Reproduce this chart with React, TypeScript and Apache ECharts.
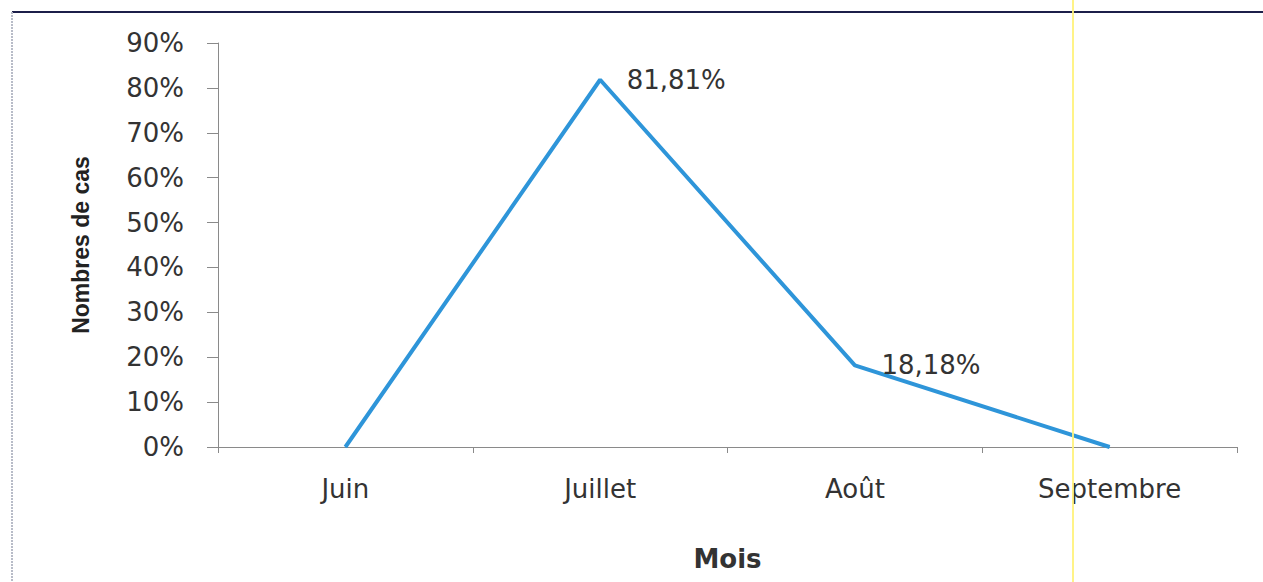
import React, { useEffect, useRef } from "react";
import * as echarts from "echarts";

// Monthly share of cases
const months = ["Juin", "Juillet", "Août", "Septembre"];
const shares = [0, 0.8181, 0.1818, 0];
const yTicks = [0, 0.1, 0.2, 0.3, 0.4, 0.5, 0.6, 0.7, 0.8, 0.9];

const W = 1263;
const H = 582;

const pct = (v: number) => (v * 100).toFixed(2).replace(".", ",") + "%";

export default function App() {
  const ref = useRef<HTMLDivElement>(null);

  useEffect(() => {
    document.body.style.margin = "0";
    if (!ref.current) return;
    const chart = echarts.init(ref.current, null, { renderer: "svg" });
    const textFont = "'DejaVu Sans', Verdana, sans-serif";

    chart.setOption({
      animation: false,
      backgroundColor: "#ffffff",
      grid: { left: 218, right: 26, top: 43, bottom: 135 },
      xAxis: {
        type: "category",
        data: months,
        boundaryGap: true,
        name: "Mois",
        nameLocation: "middle",
        nameGap: 99,
        nameTextStyle: {
          fontFamily: textFont,
          fontWeight: "bold",
          fontSize: 26,
          color: "#333333",
        },
        axisLine: { lineStyle: { color: "#8a8a8a", width: 1 } },
        axisTick: { show: true, alignWithLabel: false, length: 6, lineStyle: { color: "#8a8a8a" } },
        axisLabel: { margin: 29, fontFamily: textFont, fontSize: 26, color: "#333333" },
        splitLine: { show: false },
      },
      yAxis: {
        type: "value",
        min: yTicks[0],
        max: yTicks[yTicks.length - 1],
        interval: 0.1,
        name: "Nombres de cas",
        nameLocation: "middle",
        nameRotate: 90,
        nameGap: 126,
        nameTextStyle: {
          fontFamily: "'Liberation Sans Narrow', 'Liberation Sans', Arial, sans-serif",
          fontWeight: "bold",
          fontSize: 23,
          color: "#222222",
        },
        axisLine: { show: true, lineStyle: { color: "#8a8a8a", width: 1 } },
        axisTick: { show: true, length: 11, lineStyle: { color: "#8a8a8a" } },
        axisLabel: {
          margin: 34,
          fontFamily: textFont,
          fontSize: 26,
          color: "#333333",
          formatter: (v: number) => Math.round(v * 100) + "%",
        },
        splitLine: { show: false },
      },
      series: [
        {
          type: "line",
          data: shares.map((v) => ({
            value: v,
            label: { show: v > 0 },
          })),
          symbol: "circle",
          symbolSize: 1,
          showSymbol: true,
          itemStyle: { color: "#2e95d9" },
          lineStyle: { color: "#2e95d9", width: 4 },
          label: {
            position: "right",
            distance: 26,
            fontFamily: textFont,
            fontSize: 26,
            color: "#333333",
            formatter: (p: any) => pct(p.value),
          },
        },
      ],
      graphic: [
        {
          type: "line",
          shape: { x1: 12, y1: 12, x2: W, y2: 12 },
          style: { stroke: "#1c1f4a", lineWidth: 2 },
        },
        {
          type: "line",
          shape: { x1: 12, y1: 12, x2: 12, y2: H },
          style: { stroke: "#b8bcc8", lineWidth: 2, lineDash: [2, 1] },
        },
        {
          type: "line",
          z: 100,
          shape: { x1: 1073, y1: 0, x2: 1073, y2: H },
          style: { stroke: "#fff27a", lineWidth: 2, opacity: 0.9 },
        },
      ],
    });

    return () => chart.dispose();
  }, []);

  return <div ref={ref} style={{ width: W, height: H }} />;
}
